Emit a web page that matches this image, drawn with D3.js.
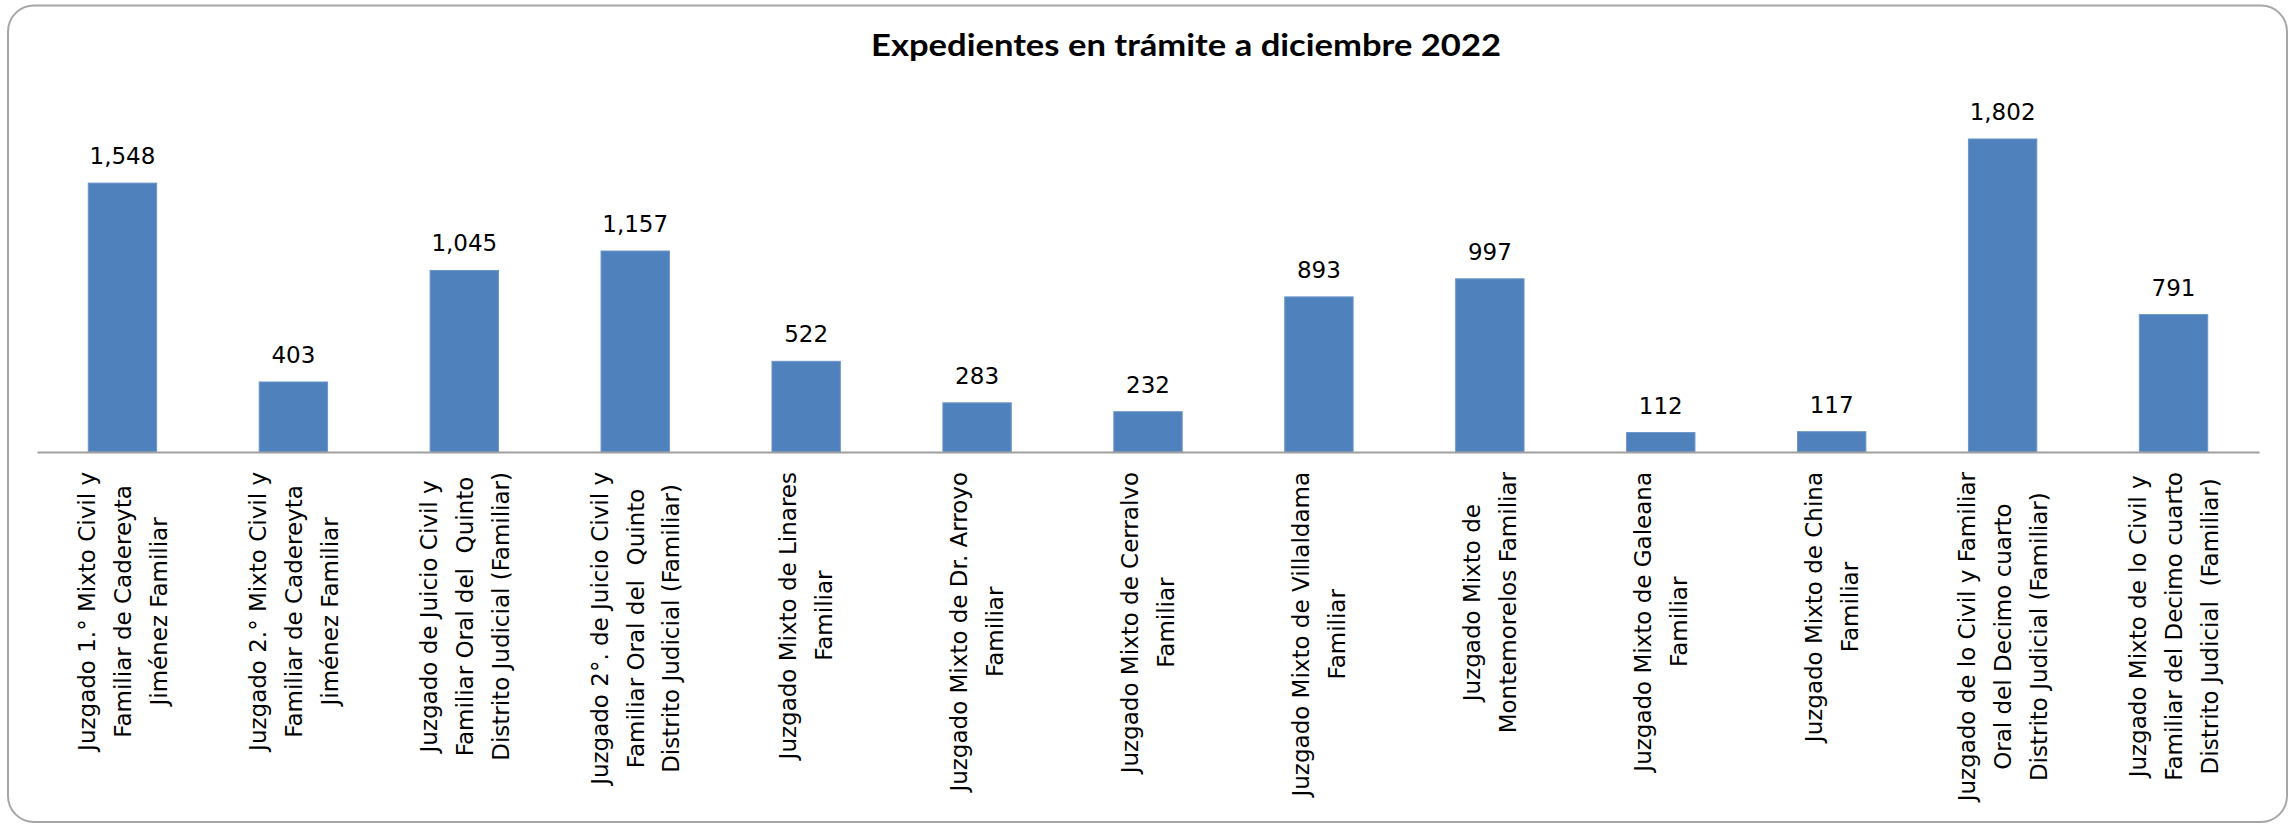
<!DOCTYPE html>
<html>
<head>
<meta charset="utf-8">
<script src="https://cdn.jsdelivr.net/npm/d3@7"></script>
<style>
  html, body { margin: 0; padding: 0; background: #ffffff; }
  svg { display: block; }
</style>
</head>
<body>
<script>
const title = "Expedientes en trámite a diciembre 2022";
const categories = [
  ["Juzgado 1.° Mixto Civil y", "Familiar de Cadereyta", "Jiménez Familiar"],
  ["Juzgado 2.° Mixto Civil y", "Familiar de Cadereyta", "Jiménez Familiar"],
  ["Juzgado de Juicio Civil y", "Familiar Oral del  Quinto", "Distrito Judicial (Familiar)"],
  ["Juzgado 2°. de Juicio Civil y", "Familiar Oral del  Quinto", "Distrito Judicial (Familiar)"],
  ["Juzgado Mixto de Linares", "Familiar"],
  ["Juzgado Mixto de Dr. Arroyo", "Familiar"],
  ["Juzgado Mixto de Cerralvo", "Familiar"],
  ["Juzgado Mixto de Villaldama", "Familiar"],
  ["Juzgado Mixto de", "Montemorelos Familiar"],
  ["Juzgado Mixto de Galeana", "Familiar"],
  ["Juzgado Mixto de China", "Familiar"],
  ["Juzgado de lo Civil y Familiar", "Oral del Decimo cuarto", "Distrito Judicial (Familiar)"],
  ["Juzgado Mixto de lo Civil y", "Familiar del Decimo cuarto", "Distrito Judicial  (Familiar)"]
];
const values = [1548, 403, 1045, 1157, 522, 283, 232, 893, 997, 112, 117, 1802, 791];
const yDomain = [0, 2000];

const W = 2292, H = 825;
const plot = { left: 37, right: 2259, top: 104.6, bottom: 452 };

const svg = d3.select("body").append("svg")
  .attr("width", W).attr("height", H)
  .style("font-family", "'DejaVu Sans', sans-serif");

// outer chart border
svg.append("rect")
  .attr("x", 8).attr("y", 5.5)
  .attr("width", 2287 - 8).attr("height", 822 - 5.5)
  .attr("rx", 26).attr("ry", 26)
  .attr("fill", "#ffffff")
  .attr("stroke", "#a6a6a6").attr("stroke-width", 2);

// title
svg.append("text")
  .attr("x", 1186).attr("y", 56)
  .attr("text-anchor", "middle")
  .attr("textLength", 630)
  .attr("lengthAdjust", "spacingAndGlyphs")
  .style("font-family", "Lato, 'Open Sans', sans-serif")
  .style("font-weight", "bold")
  .style("font-size", "30px")
  .attr("fill", "#000")
  .text(title);

const idx = d3.range(values.length);
const x = d3.scaleBand()
  .domain(idx)
  .range([plot.left, plot.right])
  .paddingInner(0.6)
  .paddingOuter(0.3);

const y = d3.scaleLinear().domain(yDomain).range([plot.bottom, plot.top]);

// bars
svg.append("g").selectAll("rect")
  .data(idx)
  .join("rect")
  .attr("x", i => x(i))
  .attr("y", i => y(values[i]))
  .attr("width", x.bandwidth())
  .attr("height", i => y(0) - y(values[i]))
  .attr("fill", "#4f81bd")
  .attr("stroke", "#6d95c8")
  .attr("stroke-width", 1);

// x axis line via d3 axis
const xAxis = d3.axisBottom(x).tickSize(0).tickFormat("");
const axisG = svg.append("g")
  .attr("transform", `translate(0,${plot.bottom})`)
  .call(xAxis);
axisG.select(".domain").attr("stroke", "#a0a0a0").attr("stroke-width", 2);

// data labels
const fmt = d3.format(",");
svg.append("g").selectAll("text")
  .data(idx)
  .join("text")
  .attr("x", i => x(i) + x.bandwidth() / 2)
  .attr("y", i => y(values[i]) - 19)
  .attr("text-anchor", "middle")
  .style("font-size", "23px")
  .attr("fill", "#000")
  .text(i => fmt(values[i]));

// category labels (rotated, multi-line, centred lines)
const labelTop = 472;
const linePitch = 36;
const labG = svg.append("g");
idx.forEach(i => {
  const lines = categories[i];
  const cx = x(i) + x.bandwidth() / 2;
  const g = labG.append("g")
    .attr("transform", `translate(${cx},${labelTop}) rotate(-90)`);
  const texts = lines.map((ln, k) => g.append("text")
    .attr("text-anchor", "middle")
    .attr("y", (k - (lines.length - 1) / 2) * linePitch)
    .attr("dy", "0.36em")
    .style("font-size", "23px")
    .style("white-space", "pre")
    .attr("xml:space", "preserve")
    .attr("fill", "#000")
    .text(ln));
  const maxW = d3.max(texts, t => t.node().getComputedTextLength());
  texts.forEach(t => t.attr("x", -maxW / 2));
});
</script>
</body>
</html>
